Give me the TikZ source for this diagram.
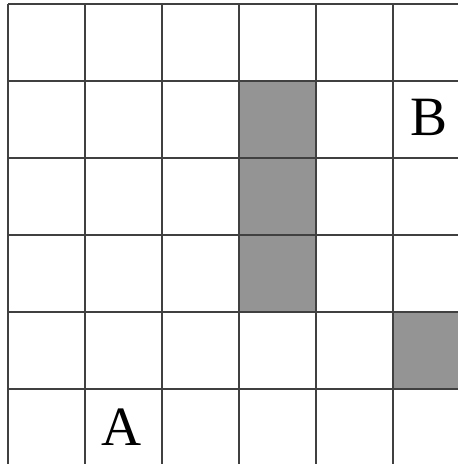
\documentclass[tikz,border=0pt]{standalone}
\usepackage{fontspec}
\setmainfont{Liberation Serif}
\usepackage{tikz}
\usetikzlibrary{positioning}
\tikzset{
    gridline/.style={draw=black!75, line width=0.75pt},
    blockcell/.style={fill=black!42},
    cellmark/.style={inner sep=0pt, font=\fontsize{20.5}{24}\selectfont}
}

\begin{document}
\begin{tikzpicture}
    \clip (-0.104,0.032) rectangle (5.844,6.058);
    \fill[white] (-0.104,0.032) rectangle (5.844,6.058);

    % Blocked cells
    \foreach \y in {2,3,4} {
        \fill[blockcell] (3,\y) rectangle (4,\y+1);
    }
    \fill[blockcell] (5,1) rectangle (6,2);

    % Grid
    \foreach \i in {0,...,6} {
        \draw[gridline] (\i,-0.5) -- (\i,6);
        \draw[gridline] (0,\i) -- (6.5,\i);
    }

    % Start and goal
    \node[cellmark] (A) at (1.48,0.51) {A};
    \node[cellmark] (B) at (5.47,4.53) {B};
\end{tikzpicture}
\end{document}
